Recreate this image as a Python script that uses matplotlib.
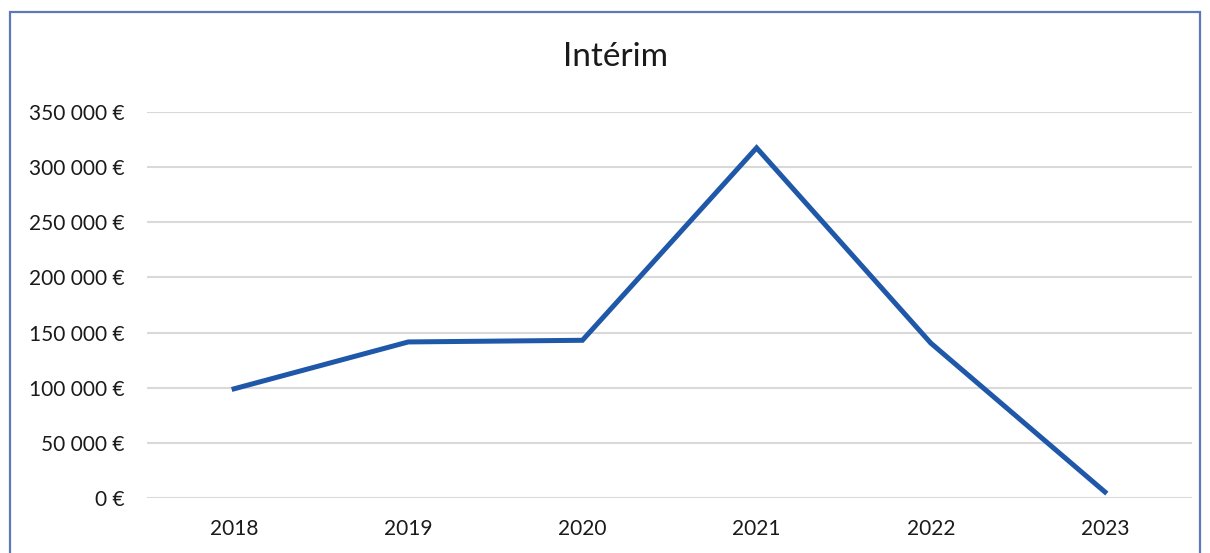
import matplotlib.pyplot as plt
from matplotlib.patches import Rectangle
from matplotlib.ticker import FuncFormatter

years = ["2018", "2019", "2020", "2021", "2022", "2023"]
interim = [99000, 141500, 143000, 317500, 140500, 5500]

plt.rcParams["font.family"] = ["Lato", "DejaVu Sans"]

fig = plt.figure(figsize=(12.1, 5.53), dpi=100)
ax = fig.add_axes([147 / 1210, 55 / 553, (1192 - 147) / 1210, (498 - 112) / 553])

x = range(len(years))
ax.plot(x, interim, color="#1f58a8", linewidth=3.6, solid_joinstyle="miter")

ax.set_xlim(-0.5, len(years) - 0.5)
ax.set_ylim(0, 350000)
ax.set_yticks(range(0, 350001, 50000))
ax.set_xticks(list(x))
ax.set_xticklabels(years)


def euro(v, pos):
    return f"{int(v):,} €".replace(",", " ")


ax.yaxis.set_major_formatter(FuncFormatter(euro))
ax.grid(axis="y", color="#d9d9d9", linewidth=1.5)
ax.set_axisbelow(True)
for s in ax.spines.values():
    s.set_visible(False)
ax.tick_params(length=0, labelsize=15, colors="#1a1a1a")
ax.tick_params(axis="y", pad=16)
ax.tick_params(axis="x", pad=15)

fig.suptitle("Intérim", x=616 / 1210, y=1 - 57 / 553, va="center", fontsize=24, color="#1a1a1a")

# chart frame from the scan
fig.patches.append(Rectangle((10 / 1210, -0.05), (1200 - 10) / 1210, 1 - 12 / 553 + 0.05,
                             transform=fig.transFigure, fill=False,
                             edgecolor="#5d79b8", linewidth=1.6))

fig.savefig("out.png", dpi=100)
